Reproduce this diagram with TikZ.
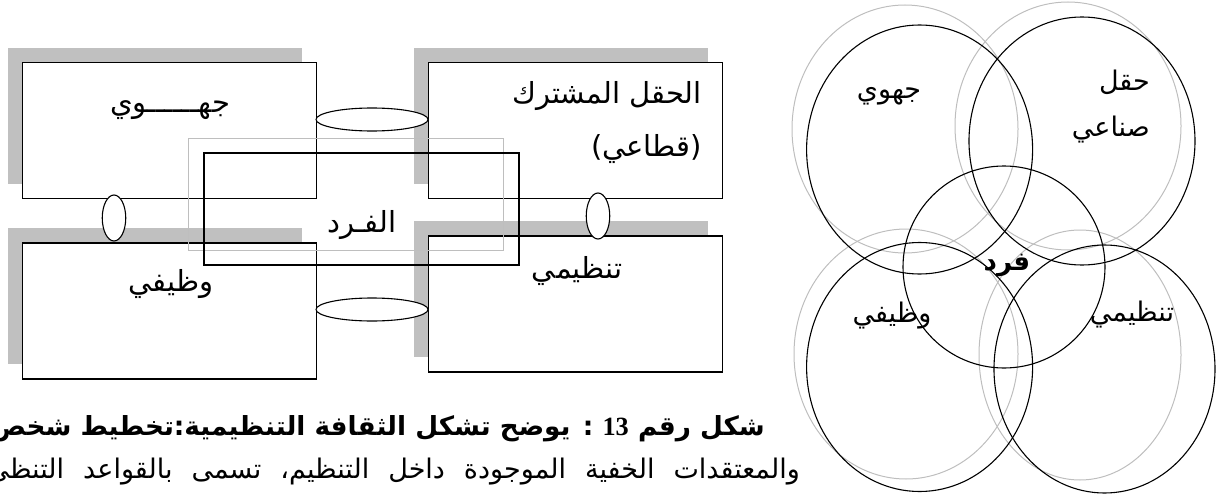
\documentclass[tikz,border=0pt]{standalone}
\usepackage{fontspec}
\setmainfont{DejaVu Sans}
\newfontfamily\arabicfont[Script=Arabic]{DejaVu Sans}
\newfontfamily\digitfont{Liberation Serif}
\TeXXeTstate=1
\usetikzlibrary{shapes.geometric,shadows}
\definecolor{shadecol}{RGB}{192,192,192}
\definecolor{ringcol}{RGB}{190,190,190}
\newcommand\rtltext[1]{\beginR #1\endR}
\begin{document}
\begin{tikzpicture}[x=1pt,y=-1pt,
  box/.style={draw=black, line width=1.3pt, fill=white, rectangle,
    minimum width=294pt, minimum height=136pt, inner sep=0pt, outer sep=0pt,
    drop shadow={shadow xshift=-14.7pt, shadow yshift=14.7pt, fill=shadecol, opacity=1}},
  link/.style={draw=black, line width=1.1pt, fill=white, ellipse, inner sep=0pt, outer sep=0pt},
  hlink/.style={link, minimum width=112pt, minimum height=23pt},
  vlink/.style={link, minimum width=23.5pt, minimum height=46pt},
  core/.style={draw=black, line width=1.3pt, rectangle, minimum width=315pt, minimum height=112pt, inner sep=0pt},
  coreghost/.style={draw=ringcol, line width=1pt, rectangle, minimum width=315pt, minimum height=112pt, inner sep=0pt},
  ring/.style={draw=black, line width=1.1pt, ellipse, inner sep=0pt},
  ghost/.style={draw=ringcol, line width=1pt, ellipse, inner sep=0pt},
  lbl/.style={font=\fontsize{29}{34}\selectfont\arabicfont, inner sep=0pt, anchor=base},
  clbl/.style={font=\fontsize{27}{32}\selectfont\arabicfont, inner sep=0pt, anchor=base},
  captext/.style={font=\fontsize{27}{31}\selectfont\arabicfont, inner sep=0pt, anchor=base east}
]
\useasboundingbox (0,0) rectangle (1216,495);
\begin{scope}
\clip (0,0) rectangle (1216,495);

% boxes with shadows
\node[box] (jh) at (169.4,130.4) {};
\node[box] (hq) at (575.7,130.4) {};
\node[box] (wz) at (169.4,310.9) {};
\node[box] (tn) at (575.7,303.9) {};

% connecting ellipses
\node[hlink] (e1) at (372,119.5) {};
\node[hlink] (e2) at (372,309.5) {};
\node[vlink] (e3) at (114,218) {};
\node[vlink] (e4) at (598,216) {};

% individual (core) rectangles
\node[coreghost] (fdg) at (346,194.3) {};
\node[core] (fd) at (361.5,209) {};

% box labels
\node[lbl] (tjh) at (170,113) {\rtltext{جهــــــوي}};
\node[lbl, anchor=base east] (thq1) at (702,103) {\rtltext{الحقل المشترك}};
\node[lbl, anchor=base east] (thq2) at (702,156) {\rtltext{(قطاعي)}};
\node[lbl] (twz) at (171,291) {\rtltext{وظيفي}};
\node[lbl] (ttn) at (577,278) {\rtltext{تنظيمي}};
\node[lbl] (tfd) at (362,232) {\rtltext{الفـرد}};

% circles: grey outlines
\node[ghost, minimum width=226pt, minimum height=248pt] (gjh) at (905,129) {};
\node[ghost, minimum width=226pt, minimum height=248pt] (ghq) at (1068,126) {};
\node[ghost, minimum width=224pt, minimum height=250pt] (gwz) at (906,354) {};
\node[ghost, minimum width=202pt, minimum height=250pt] (gtn) at (1080,355) {};
% circles: black
\node[ring, minimum width=226pt, minimum height=249pt] (cjh) at (919.6,149.5) {};
\node[ring, minimum width=226pt, minimum height=248pt] (chq) at (1082,141) {};
\node[ring, minimum width=202pt, minimum height=202pt] (cfd) at (1004,267) {};
\node[ring, minimum width=226pt, minimum height=249pt] (cwz) at (919.6,367) {};
\node[ring, minimum width=221pt, minimum height=248pt] (ctn) at (1104.5,369) {};

% circle labels
\node[clbl] (ljh) at (889,99) {\rtltext{جهوي}};
\node[clbl, anchor=base east] (lhq1) at (1150,90) {\rtltext{حقل}};
\node[clbl, anchor=base east] (lhq2) at (1150,136) {\rtltext{صناعي}};
\node[clbl, font=\fontsize{26}{30}\selectfont\arabicfont\bfseries] (lfd) at (1007,270) {\rtltext{فرد}};
\node[clbl] (lwz) at (892,322) {\rtltext{وظيفي}};
\node[clbl] (ltn) at (1132,321) {\rtltext{تنظيمي}};

% caption
\node[captext, font=\fontsize{26.3}{30}\selectfont\arabicfont\bfseries] (cap1) at (765,435)
  {\rtltext{شكل رقم \beginL{\digitfont\bfseries 13}\endL{} : يوضح تشكل الثقافة التنظيمية:تخطيط شخص}};
\node[captext] (cap2) at (800,478)
  {\spaceskip=19pt\relax\rtltext{والمعتقدات الخفية الموجودة داخل التنظيم، تسمى بالقواعد التنظي}};
\end{scope}
\end{tikzpicture}
\end{document}
